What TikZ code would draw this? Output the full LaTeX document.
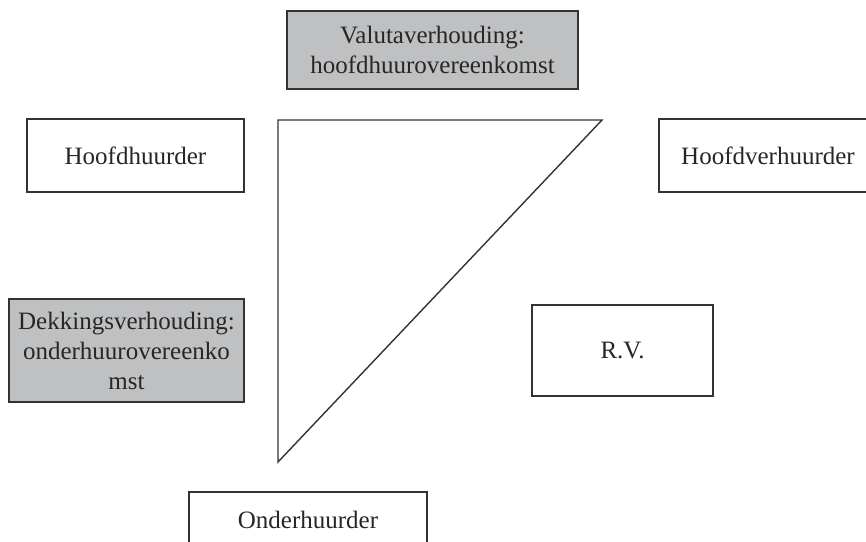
\documentclass[tikz,border=0pt]{standalone}
\usepackage{fontspec}
\setmainfont{Liberation Serif}
\definecolor{boxgray}{HTML}{BFC0C2}
\definecolor{linegray}{HTML}{333333}
\begin{document}
\begin{tikzpicture}[x=1pt,y=-1pt,
  box/.style={draw=linegray,line width=1.4pt,rectangle,inner sep=0pt,align=center,
    font=\fontsize{25}{30}\selectfont,text=black!85},
  graybox/.style={box,fill=boxgray}]
\useasboundingbox (0,0) rectangle (866,541);
\node[graybox,minimum width=291pt,minimum height=78pt] (valuta) at (432.5,50)
  {Valutaverhouding:\\hoofdhuurovereenkomst};
\node[box,minimum width=217pt,minimum height=73pt] (hh) at (135.5,155.5) {Hoofdhuurder};
\node[box,minimum width=218pt,minimum height=73pt] (hv) at (768,155.5) {Hoofdverhuurder};
\node[graybox,minimum width=235pt,minimum height=103pt] (dek) at (126.5,350.5)
  {Dekkingsverhouding:\\onderhuurovereenko\\mst};
\node[box,minimum width=181pt,minimum height=91pt] (rv) at (622.5,350.5) {R.V.};
\node[box,minimum width=238pt,minimum height=55pt] (oh) at (308,519.5) {Onderhuurder};
\coordinate (t1) at (278,120);
\coordinate (t2) at (602,120);
\coordinate (t3) at (278,462);
\draw[linegray,line width=1.4pt,line join=miter] (t1) -- (t2) -- (t3) -- cycle;
\end{tikzpicture}
\end{document}
